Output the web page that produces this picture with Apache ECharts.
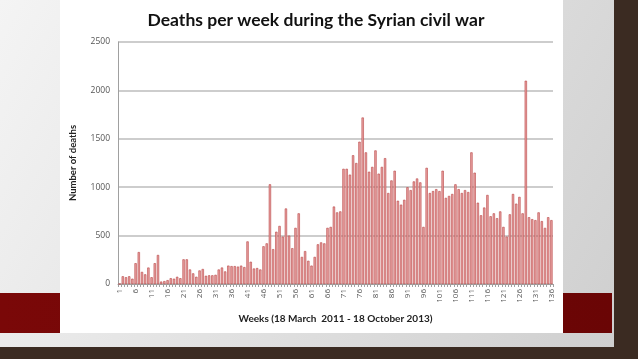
<!DOCTYPE html>
<html>
<head>
<meta charset="utf-8">
<script src="https://cdn.jsdelivr.net/npm/echarts@6/dist/echarts.min.js"></script>
<style>
html,body{margin:0;padding:0;background:#3b2b22;}
#c{width:638px;height:359px;}
</style>
</head>
<body>
<div id="c"></div>
<script>
const weeks = Array.from({length:136},(_,i)=>String(i+1));
const deaths = [
  0, 80, 70, 80, 55, 215, 330, 125, 100, 170,
  70, 215, 300, 25, 30, 40, 60, 55, 75, 60,
  255, 255, 150, 110, 75, 140, 155, 85, 90, 90,
  95, 150, 170, 130, 190, 185, 185, 180, 190, 175,
  440, 230, 160, 165, 150, 390, 420, 1030, 360, 540,
  600, 490, 780, 500, 370, 580, 730, 280, 340, 240,
  190, 280, 410, 430, 420, 580, 590, 800, 740, 750,
  1190, 1190, 1130, 1330, 1250, 1470, 1720, 1360, 1160, 1210,
  1380, 1140, 1210, 1300, 940, 1070, 1170, 860, 820, 870,
  1000, 970, 1060, 1090, 1050, 590, 1200, 940, 960, 980,
  960, 1170, 890, 910, 930, 1030, 980, 940, 970, 950,
  1360, 1150, 840, 710, 790, 920, 700, 730, 680, 750,
  590, 490, 720, 930, 830, 900, 730, 2100, 690, 670,
  660, 740, 650, 580, 690, 660
];
const yTicks = [0, 500, 1000, 1500, 2000, 2500];

const chart = echarts.init(document.getElementById('c'));
chart.setOption({
  animation: false,
  backgroundColor: '#3b2b22',
  graphic: [
    {type:'rect', z:-10, shape:{x:0,y:0,width:614,height:347},
     style:{fill:new echarts.graphic.LinearGradient(0,0,1,1,[{offset:0,color:'#f4f4f4'},{offset:1,color:'#cfcfcf'}])}},
    {type:'rect', z:-9, shape:{x:0,y:293,width:612,height:40},
     style:{fill:new echarts.graphic.LinearGradient(0,0,1,0,[{offset:0,color:'#7a0808'},{offset:1,color:'#6a0505'}])}},
    {type:'rect', z:-8, shape:{x:60,y:0,width:503,height:333}, style:{fill:'#ffffff'}}
  ],
  title: {
    text: 'Deaths per week during the Syrian civil war',
    left: 311, top: 6, textAlign: 'center',
    textStyle: {fontFamily:'Lato', fontWeight:'bold', fontSize:17.5, color:'#111'}
  },
  grid: {left:118, right:85, top:42, bottom:75},
  xAxis: {
    type: 'category',
    data: weeks,
    name: 'Weeks (18 March  2011 - 18 October 2013)',
    nameLocation: 'middle',
    nameGap: 30,
    nameTextStyle: {fontFamily:'Lato', fontWeight:'bold', fontSize:10, color:'#222'},
    axisLine: {lineStyle:{color:'#a0a0a0', width:1}},
    axisTick: {show:true, interval:0, length:3, lineStyle:{color:'#a0a0a0'}},
    axisLabel: {interval:4, rotate:90, fontSize:8, color:'#555', fontFamily:'Open Sans', margin:5},
    splitLine: {show:false}
  },
  yAxis: {
    type: 'value',
    min: 0, max: 2500, interval: 500,
    name: 'Number of deaths',
    nameLocation: 'middle',
    nameGap: 40,
    nameTextStyle: {fontFamily:'Lato', fontWeight:'bold', fontSize:9.5, color:'#222'},
    axisLine: {show:true, lineStyle:{color:'#a0a0a0'}},
    axisTick: {show:false},
    axisLabel: {fontSize:8.5, color:'#555', fontFamily:'Open Sans', margin:8,
                formatter: v => yTicks.includes(v) ? String(v) : ''},
    splitLine: {lineStyle:{color:'#bdbdbd', width:1.5}}
  },
  series: [{
    type: 'bar',
    data: deaths,
    barWidth: 2.3,
    itemStyle: {color:'#e9a2a2', borderColor:'#b84444', borderWidth:0.6}
  }]
});
</script>
</body>
</html>
